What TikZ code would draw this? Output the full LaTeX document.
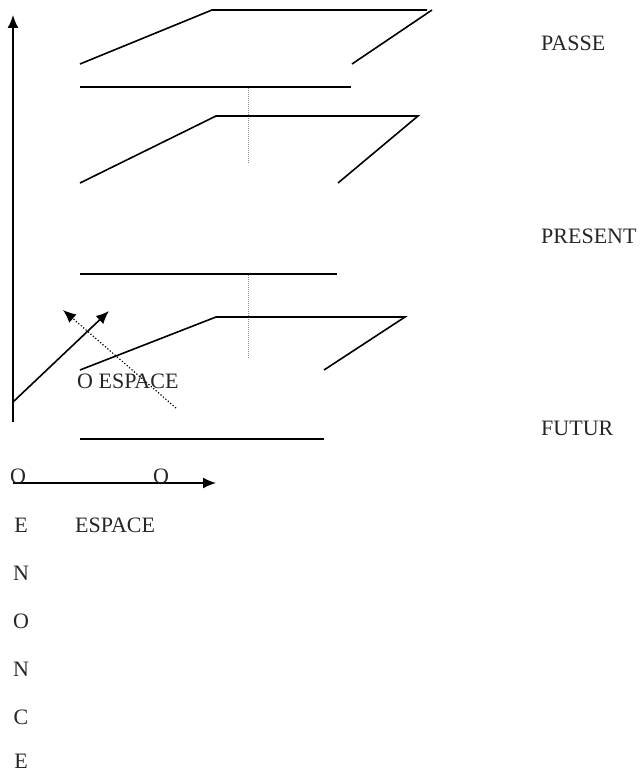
\documentclass[tikz,border=0pt]{standalone}
\usepackage{fontspec}
\setmainfont{Liberation Serif}
\usetikzlibrary{arrows.meta, positioning}

\begin{document}
\begin{tikzpicture}[
    x=1pt, y=-1pt,
    plane/.style={line width=1.6pt},
    guide/.style={densely dotted, line width=1pt, black!45},
    arrow/.style={-{Latex[length=13pt, width=11pt]}, line width=1.6pt},
    dotarrow/.style={-{Latex[length=13pt, width=11pt]}, dotted, line width=1.2pt},
    label/.style={inner sep=0pt, anchor=base west, font=\fontsize{22}{26}\selectfont, text=black!85},
    letter/.style={inner sep=0pt, anchor=base, font=\fontsize{22}{26}\selectfont, text=black!85}
]
\useasboundingbox (0,0) rectangle (642,773);

% axes
\coordinate (origin) at (13,422);
\coordinate (up) at (13,15);
\coordinate (start) at (13,483);
\coordinate (right) at (216,483);
\draw[arrow] (origin) -- (up);
\draw[arrow] (start) -- (right);

% PASSE plane
\draw[plane] (80,64) -- (212,10) -- (427,10);
\draw[plane] (432,10) -- (352,64);
\draw[plane] (80,87) -- (351,87);
\draw[guide] (248,88) -- (248,164);

% PRESENT plane
\draw[plane] (80,183) -- (216,116) -- (418,116) -- (338,183);
\draw[plane] (80,274) -- (337,274);
\draw[guide] (248,275) -- (248,358);

% FUTUR plane
\draw[plane] (80,370) -- (216,317) -- (405,317) -- (324,370);
\draw[plane] (80,439) -- (324,439);

% depth arrows
\coordinate (foot) at (13,402);
\coordinate (tip) at (109,311);
\coordinate (tail) at (176,408);
\coordinate (back) at (63,310);
\draw[arrow] (foot) -- (tip);
\draw[dotarrow] (tail) -- (back);

% labels
\node[label] (passe) at (541,51) {PASSE};
\node[label] (present) at (541,243) {PRESENT};
\node[label] (futur) at (541,435) {FUTUR};
\node[label] (oespace) at (77,388) {O ESPACE};
\node[label] (o1) at (10,483) {O};
\node[label] (o2) at (153,483) {O};
\node[label] (espace) at (75,532) {ESPACE};

% vertical word
\node[letter] (e1) at (21,532) {E};
\node[letter] (n1) at (21,580) {N};
\node[letter] (o3) at (21,628) {O};
\node[letter] (n2) at (21,676) {N};
\node[letter] (c1) at (21,724) {C};
\node[letter] (e2) at (21,768) {E};
\end{tikzpicture}
\end{document}
